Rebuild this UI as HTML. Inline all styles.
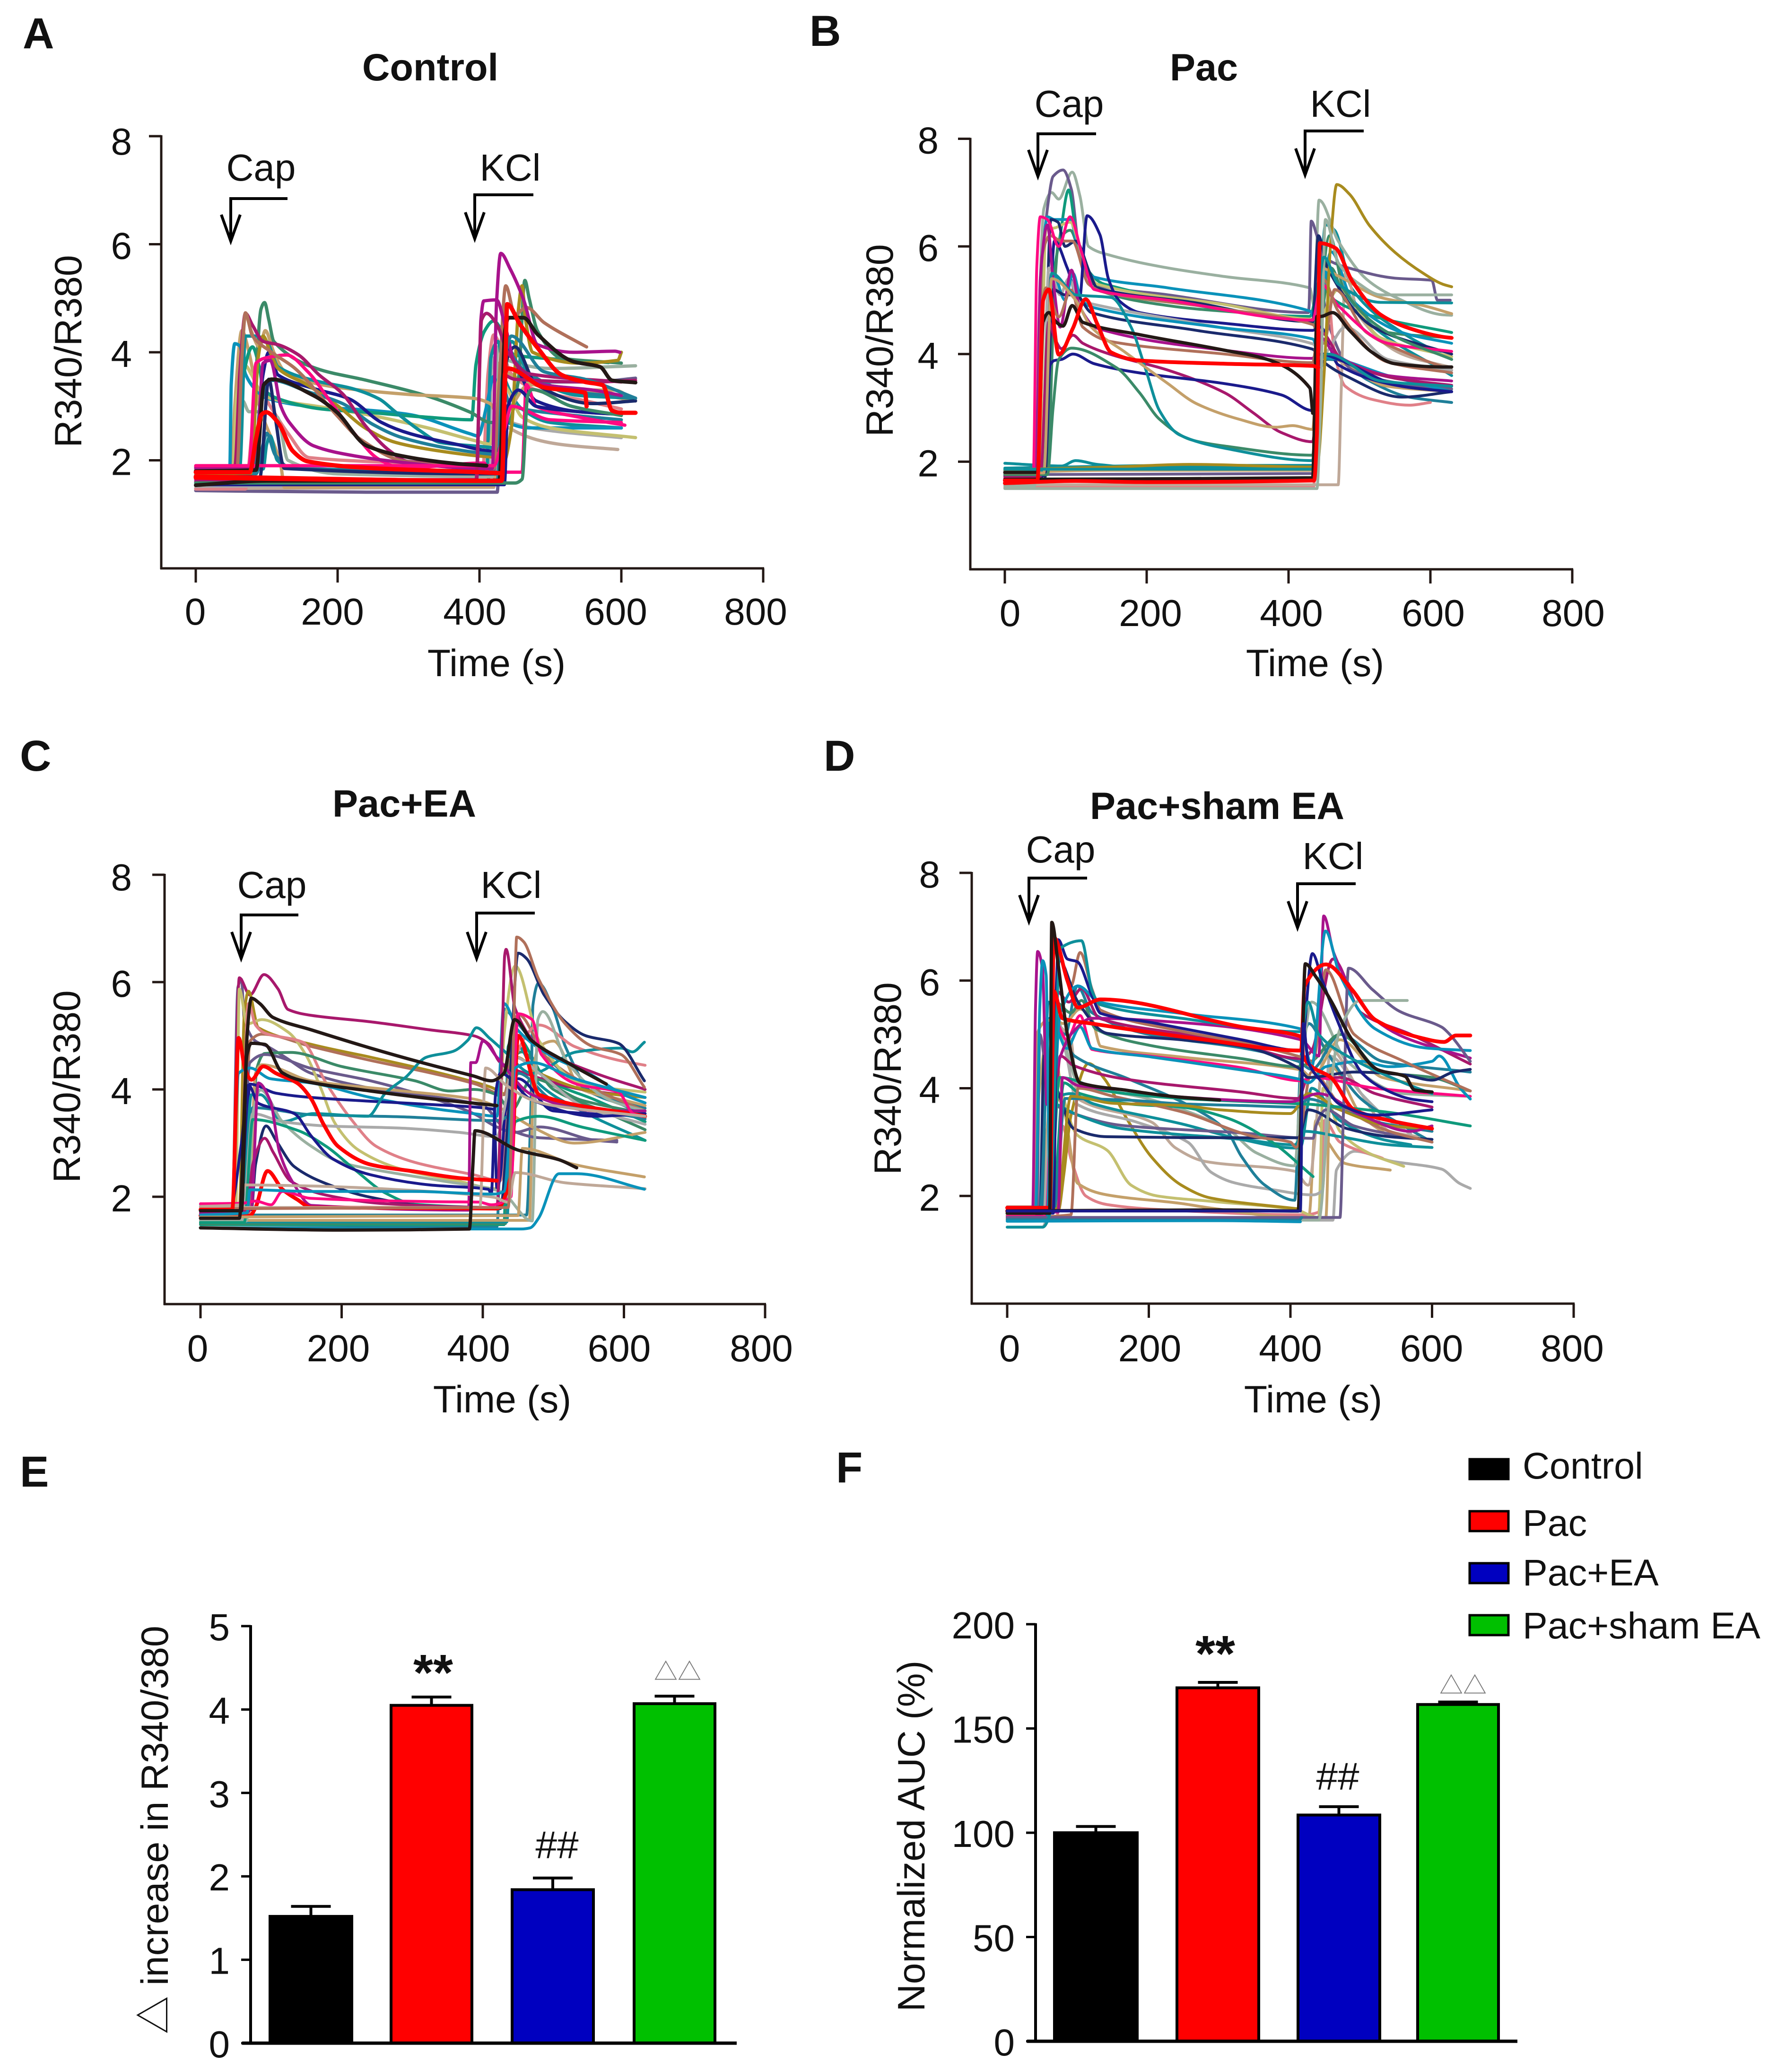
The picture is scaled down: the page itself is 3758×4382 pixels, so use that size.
<!DOCTYPE html>
<html lang="en">
<head>
<meta charset="utf-8">
<title>Calcium imaging time courses and summary bars</title>
<style>
html,body{margin:0;padding:0;background:#fff;}
svg{display:block;}
text{font-family:"Liberation Sans","Noto Sans CJK SC",sans-serif;fill:#111;}
.letter{font-size:92px;font-weight:bold;}
.title{font-size:81px;font-weight:bold;text-anchor:middle;}
.tick{font-size:80px;}
.axis-title{font-size:80.5px;text-anchor:middle;}
.anno{font-size:80px;text-anchor:middle;}
.legend{font-size:79px;}
</style>
</head>
<body>
<svg id="figure" xmlns="http://www.w3.org/2000/svg" width="3758" height="4382" viewBox="0 0 3758 4382">
<rect width="3758" height="4382" fill="#fff"/>
<text class="letter" x="48" y="102">A</text>
<text class="letter" x="1712" y="97">B</text>
<text class="letter" x="42" y="1630">C</text>
<text class="letter" x="1742" y="1630">D</text>
<text class="letter" x="42" y="3144">E</text>
<text class="letter" x="1768" y="3135">F</text>
<text class="title" x="910" y="170">Control</text>
<text class="title" x="2546" y="170">Pac</text>
<text class="title" x="855" y="1727">Pac+EA</text>
<text class="title" x="2574" y="1732">Pac+sham EA</text>
<g id="panels"></g>
<g id="bars"></g>
<g>
<rect x="3108" y="3086" width="82" height="42" fill="#000" stroke="#000" stroke-width="5"/>
<text class="legend" x="3220" y="3127">Control</text>
<rect x="3108" y="3196" width="82" height="42" fill="#ff0000" stroke="#000" stroke-width="5"/>
<text class="legend" x="3220" y="3248">Pac</text>
<rect x="3108" y="3306" width="82" height="42" fill="#0000c0" stroke="#000" stroke-width="5"/>
<text class="legend" x="3220" y="3353">Pac+EA</text>
<rect x="3108" y="3416" width="82" height="42" fill="#00c000" stroke="#000" stroke-width="5"/>
<text class="legend" x="3220" y="3465">Pac+sham EA</text>
</g>
</svg>
<script>
const xTickValues = [0, 200, 400, 600, 800];
const yTickValues = [2, 4, 6, 8];
const barGroups = ["Control", "Pac", "Pac+EA", "Pac+sham EA"];
const panelEValues = [1.52, 4.05, 1.84, 4.07];
const panelEErrors = [0.12, 0.1, 0.14, 0.09];
const panelETicks = [0, 1, 2, 3, 4, 5];
const panelFValues = [100, 169.5, 108.5, 161.5];
const panelFErrors = [3, 2.6, 4, 1.2];
const panelFTicks = [0, 50, 100, 150, 200];

const panelATraces = [
[0,1.44,240,1.41,425,1.41,432,3.7,447,3.55,480,3.45,560,3.45,620,3.52],
[0,1.48,420,1.5,428,3.3,437,2.64,511,2.3,595,2.2],
[0,1.47,70,1.47,80,2.6,90,3.3,105,3.0,130,2.5,160,2.05,300,1.95,405,1.9,412,3.6,420,4.32,430,4.1,445,3.6,480,3.3,550,3.1,600,2.95],
[0,1.52,412,1.55,418,3.9,428,3.1,445,2.7,500,2.55,600,2.42],
[0,1.56,50,1.56,55,3,65,4.4,75,4.0,90,3.0,120,1.9,125,1.5,420,1.52,428,3.8,440,3.6,520,3.3,590,3.3,620,3.1],
[0,1.62,60,1.62,66,3.1,75,2.9,90,2.9,115,2.8,130,2.0,200,1.75,418,1.7,426,4.1,440,3.85,500,3.7,620,3.75],
[0,1.82,95,1.84,100,2.3,105,2.45,115,2.0,135,1.85,410,1.8,416,3.9,426,4.2,436,3.5,460,2.95,500,2.7,600,2.6],
[0,1.7,85,1.75,95,2.3,100,2.5,112,2.1,135,1.85,420,1.8,428,3.5,445,3.0,520,2.85,600,2.75],
[0,1.85,48,1.85,50,3.4,55,4.16,62,4.12,70,3.6,85,3.3,100,3.15,160,3.0,240,2.93,300,2.85,387,2.49,398,2.45,410,3.0,420,3.55,430,3.0,440,2.7,470,2.6,600,2.6],
[0,1.75,52,1.75,58,3.2,70,3.75,78,3.6,90,3.3,105,3.15,180,2.98,240,2.85,324,2.61,395,2.36,415,2.3,428,3.5,440,3.3,460,2.8,500,2.6,620,2.42],
[0,1.8,58,1.8,65,3.4,80,4.1,90,3.7,95,3.33,116,3.14,178,2.95,241,2.89,324,2.8,389,2.75,395,3.77,407,4.39,420,4.58,432,4.39,449,3.95,491,3.89,582,3.81],
[0,1.78,78,1.78,85,3.6,92,4.8,97,4.92,103,4.6,110,4.2,170,3.7,241,3.48,324,3.2,387,2.89,416,2.7,425,2.7,440,2.7,455,3.5,464,5.33,470,5.0,482,4.39,516,3.89,600,3.8],
[0,1.74,58,1.74,64,3.5,70,4.7,78,4.4,90,4.1,98,4.4,110,4.0,125,3.65,160,3.45,200,3.35,300,3.22,390,3.15,415,3.05,430,2.75,440,2.9,470,3.4,620,3.1],
[0,1.86,62,1.86,70,4.3,85,4.3,100,4.2,116,3.73,166,3.48,220,3.33,258,3.14,282,2.89,316,2.55,345,2.33,420,2.23,430,2.2,436,3.6,445,4.2,470,3.6,540,3.2,620,3.15],
[0,1.72,80,1.72,95,3.6,103,4.0,116,3.58,166,3.33,216,3.14,262,2.7,303,2.49,366,2.3,420,2.17,428,2.2,436,4.1,450,3.8,480,3.1,540,2.9,600,2.85],
[0,1.76,78,1.76,88,3.9,95,4.3,105,4.0,116,3.7,158,3.39,199,3.02,241,2.58,282,2.33,345,2.17,399,2.08,425,2.05,432,1.9,445,2.6,455,4.8,460,5.23,465,4.6,475,4.0,540,3.8,595,3.85,600,4.0],
[0,1.68,80,1.68,95,3.2,107,3.48,158,3.27,207,3.05,249,2.67,291,2.42,366,2.2,420,2.11,430,2.1,440,4.0,460,3.7,520,3.3,620,3.15],
[0,1.88,55,1.88,62,3.6,70,4.72,80,4.5,95,4.2,116,4.14,145,3.95,174,3.58,207,3.23,241,2.61,274,2.17,299,1.98,420,1.9,430,3.6,450,3.5,560,3.45,620,3.48],
[0,1.89,75,1.89,85,3.8,100,3.9,128,3.95,158,3.64,187,3.14,224,2.49,258,2.02,291,1.86,407,1.95,412,1.78,460,1.78,466,3.4,480,3.0,540,2.8,605,2.65],
[0,1.83,58,1.83,65,3.9,70,4.73,80,4.3,107,4.0,140,3.7,199,2.83,232,2.39,295,1.98,420,1.85,428,3.5,437,5.23,450,4.7,466,4.83,491,4.55,541,4.17,551,4.1],
[0,1.66,90,1.66,103,3.5,112,2.8,125,1.85,400,1.75,430,1.75,437,3.8,450,4.1,480,3.4,560,3.05,620,3.1],
[0,1.86,85,1.86,95,3.8,105,3.85,120,3.0,132,2.7,166,2.27,225,2.08,300,1.95,395,1.85,418,1.85,424,4.9,430,5.83,443,5.55,462,4.98,482,4.14,532,4.0,591,4.02,598,4.0],
[0,1.64,396,1.64,402,4.6,406,4.95,424,4.97,436,4.5,450,3.8,490,3.4,560,3.3,600,3.2],
[0,1.6,395,1.6,403,4.6,410,4.72,425,4.5,440,4.0,470,3.6,600,3.45],
[0,1.58,425,1.58,432,3.5,445,4.3,491,3.64,549,3.5,620,3.15],
[0,1.55,435,1.55,440,3.0,455,3.3,480,3.0,540,2.9,600,2.85],
[0,1.9,420,1.9,436,2.6,445,3.0,500,2.75,600,2.7],
[0,1.58,450,1.58,460,1.65,468,3.2,474,3.31,530,3.0,600,2.83],
[0,1.54,100,1.62,428,1.63,436,4.4,441,4.64,462,4.64,482,4.33,532,3.83,570,3.73,587,3.48,620,3.44],
[0,1.8,85,1.82,96,3.4,107,3.5,166,3.2,199,2.89,241,2.27,303,2.05,366,1.94,410,1.9],
[0,1.78,76,1.78,85,2.4,93,2.85,99,2.89,116,2.7,137,2.17,158,1.98,241,1.86,400,1.78,430,1.76],
[0,1.7,428,1.62,432,1.64,436,3.6,440,3.7,491,3.35,549,3.25,551,3.0],
[0,1.68,200,1.64,431,1.62,436,3.4,439,4.89,457,4.52,482,4.08,516,3.58,549,3.45,574,3.39,587,2.92,600,2.88,620,2.88]
];
const panelAColors = "l i s y a v t u b h e g a t n o u c p w d m m c u n p g k k r r r".split(" ");

const panelBTraces = [
[0,1.97,80,1.92,100,2.02,130,1.95,200,1.88,434,1.88,440,3,450,5.6,470,5.3,520,4.5,630,3.6],
[0,1.85,434,1.85,442,3.6,455,3.9,474,3.88,510,3.53,570,3.2,630,3.1],
[0,1.8,150,1.84,434,1.84,444,3.7,455,4.0,480,3.8,540,3.4,630,3.3],
[0,1.76,434,1.78,446,5.2,455,4.6,490,3.7,560,3.45,630,3.35],
[0,1.88,250,1.93,434,1.93,442,4.2,452,6.4,465,6.3,490,5.2,560,4.4,630,3.9],
[0,1.52,435,1.52,445,4.6,452,5.6,465,4.0,480,3.4,520,3.15,570,3.05,600,3.1],
[0,1.57,470,1.57,474,3.2,480,5.5,500,4.7,560,4.0,630,3.75],
[0,1.55,42,1.55,48,4.6,55,6.7,66,7.0,76,6.88,95,7.38,106,6.93,118,6.0,150,5.83,230,5.6,310,5.44,430,5.23,436,4.9,443,6.86,470,6.1,510,5.39,550,5.06,617,4.73,630,4.72],
[0,1.8,42,1.8,52,5.5,62,6.9,68,7.3,82,7.42,94,7.05,104,6,125,5.3,230,5.1,428,4.77,429,4.9,432,6.47,440,6.2,450,5.8,490,5.58,550,5.41,602,5.37,610,5.0,628,5.0],
[0,1.72,50,1.72,62,4.8,78,6.2,90,7.05,100,6.3,115,5.6,140,5.3,430,4.7,445,5.4,465,5.0,520,4.7,630,4.4],
[0,1.83,60,1.83,70,5.2,76,6.1,92,6.3,110,5.7,140,5.15,230,4.9,434,4.6,440,4.4,460,5.6,480,5.0,540,4.4,630,4.3],
[0,1.75,45,1.75,50,4.9,60,6.55,70,6.5,92,6.5,106,5.8,126,5.43,230,5.23,430,4.8,440,4.6,460,5.9,490,5.0,560,4.4,630,4.2],
[0,1.78,48,1.78,58,6.3,72,6.35,92,6.45,110,5.8,130,5.3,310,4.92,434,4.65,445,4.7,470,5.2,530,4.3,630,3.95],
[0,1.7,52,1.7,65,6.5,75,6.45,85,6.0,100,6.1,120,5.5,130,5.23,270,4.95,434,4.6,442,6.2,455,5.6,520,4.5,630,4.0],
[0,1.68,46,1.68,52,5.8,64,6.2,80,6.1,95,6.1,118,5.3,140,5.15,300,4.85,434,4.55,450,4.2,465,5.2,510,4.4,570,4.0,630,3.7],
[0,1.74,55,1.74,70,6.1,88,5.6,105,5.0,116,6.57,134,6.22,146,5.4,162,4.98,190,4.77,310,4.57,434,4.44,445,4.5,470,3.8,560,3.4,630,3.3],
[0,1.7,40,1.7,45,5.6,50,6.55,60,6.5,76,6.0,92,6.55,108,5.9,126,5.2,230,5.0,434,4.63,446,5.3,470,4.9,540,4.2,630,4.05],
[0,1.81,52,1.81,62,5.6,78,5.1,90,5.4,105,5.0,120,4.94,310,4.48,434,4.19,448,4.0,480,4.5,540,3.9,630,3.7],
[0,1.79,55,1.79,68,5.5,85,5.0,96,5.5,108,5.0,126,4.86,300,4.5,434,4.28,445,3.95,470,3.9,540,3.6,630,3.3],
[0,1.66,56,1.66,68,5.2,85,5.1,100,5.1,122,4.77,270,4.44,434,4.09,445,3.9,480,3.6,560,3.2,630,3.3],
[0,1.64,44,1.64,50,5.4,60,6.4,68,5.4,78,4.5,94,5.56,105,4.9,130,4.48,310,4.07,434,3.92,446,4.3,465,4.0,540,3.6,630,3.5],
[0,1.82,46,1.82,52,4.8,58,5.23,76,4.69,93,5.19,110,4.5,150,4.23,310,4.0,434,3.84,448,5.4,470,4.8,540,3.85,630,3.65],
[0,1.73,50,1.73,62,4.6,70,4.3,80,4.1,96,4.35,110,4.2,150,3.99,230,3.7,310,3.28,350,2.91,390,2.54,434,2.37,446,4.4,475,3.9,550,3.55,630,3.42],
[0,1.78,55,1.78,64,3.8,70,3.88,80,3.9,96,4.0,126,3.82,190,3.65,310,3.45,390,3.24,434,2.95,446,4.0,470,3.9,560,3.4,630,3.3],
[0,1.76,60,1.76,68,3.0,76,3.9,94,4.11,158,3.74,190,3.28,218,2.79,262,2.41,310,2.29,434,2.12,444,4.8,458,6.2,478,5.2,540,4.4,630,3.9],
[0,1.84,55,1.84,66,5.5,100,5.1,150,5.05,178,4.5,198,3.74,218,2.95,246,2.5,310,2.25,434,2.02,442,3.9,455,4.0,530,3.5,630,3.4],
[0,1.79,55,1.79,66,5.4,100,5.0,122,4.5,170,4.03,230,3.45,270,3.08,330,2.79,382,2.64,406,2.67,434,2.6,445,5.6,470,5.45,530,5.05,590,4.9,630,4.75],
[0,1.85,150,1.9,260,1.95,440,1.9,450,3.6,460,6.2,468,7.15,486,6.97,514,6.39,550,5.89,590,5.5,617,5.3,630,5.25],
[0,1.5,200,1.5,440,1.5,445,3,452,6.5,470,5.7,500,5.3,530,5.1,630,5.1],
[0,1.86,434,1.86,442,5.0,450,5.8,470,5.3,530,4.96,630,4.95],
[0,1.67,200,1.68,434,1.7,440,4.7,446,4.7,462,4.77,486,4.44,518,4.03,550,3.82,617,3.76,630,3.76],
[0,1.8,46,1.8,54,4.6,62,4.77,72,4.6,82,4.52,95,4.9,110,4.59,190,4.36,310,4.07,370,3.9,430,3.37,434,2.9],
[0,1.6,100,1.64,200,1.62,436,1.65,440,2.5,444,6.06,466,5.97,490,5.35,530,4.73,570,4.48,617,4.32,630,4.3],
[0,1.65,46,1.65,54,5.0,62,5.2,76,3.99,96,4.48,114,5.02,130,4.57,150,4.03,190,3.88,310,3.82,434,3.78,442,3.75]
];
const panelBColors = "t u a l t s i v l e g b h d w n p y b d m w c n g t a o v t k k r r".split(" ");

const panelCTraces = [
[0,1.42,420,1.44,430,5.5,445,5.3,490,4.6,560,3.9,630,3.65],
[0,1.48,430,1.48,436,4.8,446,5.0,490,4.2,560,3.8,630,3.4],
[0,1.5,432,1.5,440,4.5,455,4.7,500,4.0,570,3.6,630,3.25],
[0,1.53,434,1.53,440,3.3,450,4.8,480,4.1,540,3.6,630,3.05],
[0,1.66,462,1.66,468,3.6,471,5.57,479,5.98,500,5.49,517,4.8,554,3.95,600,3.7,630,3.5],
[0,1.56,466,1.56,472,4.4,480,4.8,500,4.9,540,4.0,600,3.8,630,3.7],
[0,1.8,45,1.8,53,5.9,58,6.05,62,5.3,78,4.9,95,4.8,120,4.6,157,4.3,250,4.0,400,3.7,430,3.3,480,3.1,590,3.05],
[0,1.82,45,1.82,55,6.08,70,5.76,90,6.14,110,5.87,124,5.49,157,5.38,241,5.26,325,5.11,387,5.0,408,4.85,425,4.5,460,4.3,540,4.0,630,3.85],
[0,1.75,55,1.75,62,5.4,68,5.83,82,5.15,157,4.84,241,4.6,325,4.35,387,4.14,412,4.04,436,3.9,448,4.6,480,4.3,560,3.95,630,3.85],
[0,1.72,60,1.72,70,4.9,87,5.03,157,4.8,241,4.54,325,4.31,390,4.1,430,3.9,450,5.4,490,4.6,560,4.0,630,3.6],
[0,1.78,50,1.78,55,5.87,66,5.22,87,5.3,124,5.07,149,4.65,170,4.04,191,3.36,224,2.87,283,2.52,366,2.29,420,2.15,430,5.0,446,6.3,480,4.9,540,4.1,630,3.95],
[0,1.73,55,1.73,68,5.6,78,5.2,91,5.05,145,4.88,178,4.12,212,3.47,249,2.94,304,2.64,387,2.41,425,2.3,440,4.4,480,5.2,530,4.8,590,4.55,630,4.45],
[0,1.7,68,1.7,80,4.4,91,4.67,128,4.69,199,4.43,304,4.16,354,3.97,387,4.0,420,3.9,440,3.6,470,4.2,540,3.8,630,3.55],
[0,1.68,56,1.68,70,4.5,91,4.65,157,4.39,241,4.16,325,3.85,387,3.55,420,3.3,445,3.2,480,3.3,560,3.05,590,3.02],
[0,1.64,68,1.64,78,4.3,87,4.46,157,4.16,280,3.98,387,3.82,425,3.65,470,3.3,530,3.0,630,3.2],
[0,1.86,45,1.86,54,4.3,70,4.4,99,4.2,157,4.12,241,3.85,337,3.63,387,3.55,420,3.5,430,5.6,450,5.1,500,4.6,550,4.3,600,3.9,630,3.75],
[0,1.6,60,1.6,70,4.1,107,3.93,157,3.85,241,3.78,325,3.72,416,3.63,420,2.15,425,2.4,432,3.6,450,4.2,500,3.6,630,3.5],
[0,1.62,60,1.62,74,3.66,157,3.53,283,3.49,420,3.42,435,3.5,450,4.3,500,3.8,630,3.45],
[0,1.7,60,1.7,72,3.9,85,3.9,116,3.4,160,3.55,237,3.5,262,3.93,291,4.23,320,4.6,358,4.71,379,4.92,391,5.15,410,4.95,429,4.73,470,4.3,533,4.7,596,4.77,612,4.7,629,4.88],
[0,1.58,60,1.58,74,3.55,116,3.4,178,3.32,283,3.28,366,3.2,420,3.12,430,3.6,445,4.6,480,4.3,540,3.7,630,3.35],
[0,1.55,65,1.55,75,3.6,85,3.99,116,3.4,157,2.94,199,2.64,249,2.5,340,2.3,425,2.1,470,1.55,478,5.3,485,5.45,520,4.5,580,3.8,630,3.6],
[0,1.52,62,1.52,74,3.44,137,3.24,178,2.94,220,2.49,262,2.07,304,1.86,420,1.8,436,1.85,446,3.4,480,3.5,540,3.3,630,3.05],
[0,1.78,42,1.78,58,3.0,68,4.08,82,3.74,133,3.55,157,3.13,187,2.71,241,2.41,325,2.22,408,2.14,412,2.05,418,3.9,425,4.3,470,3.8,560,3.5,630,3.55],
[0,1.76,72,1.76,78,2.6,93,3.32,107,3.05,133,2.56,183,2.22,241,1.99,325,1.82,425,1.78,436,3.5,450,6.54,462,6.44,487,5.76,517,5.26,546,5.0,592,4.86,629,4.16],
[0,1.74,66,1.74,74,2.6,91,3.09,103,2.83,128,2.29,178,2.03,262,1.87,420,1.8,428,5.2,431,6.5,433,6.61,446,5.5,480,4.8,560,4.3,630,4.0],
[0,1.7,64,1.7,72,1.8,82,4.12,99,3.78,112,2.83,133,2.22,157,1.84,380,1.75,383,4.5,390,4.5,400,4.9,420,4.6,470,3.9,560,3.6,630,3.6],
[0,1.65,70,1.65,78,1.8,95,2.48,116,2.14,137,1.95,157,1.8,420,1.78,440,2.4,450,5.0,480,3.9,630,3.5],
[0,1.87,60,1.88,78,1.92,100,1.85,116,2.1,157,1.97,325,1.91,395,1.9,412,1.85,440,2,446,4.6,450,5.41,470,5.3,483,4.65,533,4.1,592,3.95,613,3.55,625,3.5],
[0,1.82,58,1.85,62,2.22,157,2.2,325,2.1,416,1.99,436,1.9,446,2.45,517,2.26,596,2.18,630,2.15],
[0,1.66,66,1.7,70,2.13,157,2.1,300,2.1,416,2.05,430,2.1,446,4.4,470,4.5,530,4.2,630,3.85],
[0,1.8,396,1.8,404,4.4,433,4.08,470,3.8,500,3.7,630,3.5],
[0,1.62,450,1.65,456,2.9,530,2.6,629,2.37],
[0,1.42,200,1.4,455,1.4,467,1.42,479,1.6,508,2.43,533,2.43,629,2.14],
[0,1.76,60,1.78,436,1.8,446,6.2,448,6.84,458,6.75,479,6.06,517,5.22,554,4.81,596,4.65,629,4.04],
[0,1.76,45,1.76,54,4.96,63,4.39,72,4.18,89,4.43,107,4.3,137,4.12,157,3.82,174,3.36,195,2.94,241,2.6,304,2.47,366,2.35,420,2.3],
[0,1.74,58,1.74,66,5.0,72,5.7,84,5.6,103,5.34,157,5.11,241,4.77,325,4.46,387,4.25,412,4.16,430,4.3,445,5.3,470,4.9,520,4.5,575,4.1],
[0,1.6,55,1.6,66,4.65,72,4.86,91,4.84,116,4.31,145,4.16,241,3.97,325,3.83,420,3.7],
[0,1.42,200,1.38,381,1.4,386,2.6,389,3.23,450,2.87,508,2.69,533,2.54]
];
const panelCColors = "u e g t u a l c o w h s g l a b n u t y v e n d c m r p i b i a b w r k k k".split(" ");

const panelDTraces = [
[0,1.42,50,1.42,58,1.6,420,1.55,440,1.55,460,1.55,465,2.48,491,2.83,541,2.65,613,2.5,638,2.24,654,2.14],
[0,1.6,420,1.55,426,1.6,436,3.4,453,3.0,478,2.6,541,2.48],
[0,1.55,70,1.55,78,3.3,90,2.69,111,2.0,141,1.84,211,1.75,420,1.65,440,1.7,448,3.4,470,3.0,530,2.7],
[0,1.58,48,1.58,55,3,62,3.9,78,3.7,99,2.24,141,2.02,246,1.86,285,1.78,410,1.6,450,1.6,457,4.4,500,3.5,540,3.1],
[0,1.75,38,1.75,45,3.9,60,5.2,78,3.9,99,3.13,141,2.85,175,2.2,212,2.0,288,1.9,406,1.75,440,1.6,446,4.0,470,3.2,510,2.8,560,2.55],
[0,1.72,72,1.72,80,2.4,90,3.49,115,4.46,137,4.18,170,3.41,204,2.72,246,2.2,288,1.96,411,1.76],
[0,1.8,52,1.8,64,5.2,90,4.9,99,3.81,204,3.37,238,2.89,280,2.64,406,2.46,425,2.2,450,4.8,500,3.9,540,3.2,580,3.1],
[0,1.7,52,1.7,66,5.2,82,4.7,99,3.7,183,3.37,255,3.0,288,2.44,322,2.24,373,2.12,432,2.02,445,2.1,455,4.6,500,3.9,540,3.4,570,3.15],
[0,1.65,48,1.65,58,5.6,78,5.0,95,4.6,170,4.18,255,3.69,310,3.21,331,2.73,364,2.2,406,1.92,415,4.6,426,5.2,450,4.7,500,3.8,560,3.3,600,3.0],
[0,1.62,55,1.62,68,5.4,82,4.8,100,4.1,200,3.8,310,3.25,352,2.8,406,2.56,416,4.4,430,5.6,480,4.5,560,3.9,654,3.85],
[0,1.68,55,1.68,66,3.8,90,3.9,122,3.71,246,3.34,331,3.05,406,2.89,414,2.9,430,4.0,470,3.4,530,3.05,570,2.95],
[0,1.56,42,1.56,46,5.0,60,3.8,90,3.55,162,3.31,331,3.17,432,3.07,436,3.3,450,3.6,490,3.3,560,3.1],
[0,1.63,46,1.63,52,3.8,70,3.7,100,3.5,162,3.25,331,3.05,406,2.95,420,3.2,470,3.1,540,2.95,600,2.9],
[0,1.66,46,1.66,52,4.6,70,4.0,94,3.25,141,3.1,331,3.08,411,3.08,425,3.6,480,3.25,540,3.1,600,3.05],
[0,1.7,64,1.7,80,4.1,103,3.9,180,3.7,246,3.65,310,3.45,373,3.01,432,2.36],
[0,1.58,90,1.65,100,4.0,150,3.85,250,3.55,350,3.1,400,3.0,408,2.9,430,4.3,470,3.7,540,3.2,600,3.0],
[0,1.72,60,1.72,75,4.6,94,4.42,162,4.18,331,3.93,411,3.81,425,4.2,470,4.2,520,3.9,600,3.65],
[0,1.74,66,1.74,82,3.81,170,3.78,246,3.71,331,3.68,411,3.65,425,3.8,470,3.6,530,3.35,600,3.2],
[0,1.76,70,1.76,90,3.85,150,3.72,246,3.68,300,3.6,400,3.53,425,3.9,470,3.6,540,3.3,600,3.25],
[0,1.73,60,1.73,74,4.2,140,3.95,246,3.81,415,3.71,430,3.7,470,3.65,540,3.55,654,3.3],
[0,1.7,72,1.7,78,4.2,100,4.05,170,3.96,232,3.85,400,3.75,440,3.9,500,3.5,570,3.2,600,3.3],
[0,1.68,46,1.68,60,5.3,82,5.0,99,5.9,120,5.4,200,5.0,331,4.75,411,4.5,430,4.35,470,5.0,530,4.5,654,4.3],
[0,1.66,38,1.66,42,5.0,55,5.25,65,5.27,80,5.2,103,5.47,120,5.27,132,4.78,246,4.58,415,4.34,430,4.2,470,4.9,530,4.2,654,3.95],
[0,1.62,55,1.62,66,5.3,84,4.9,103,5.35,120,4.72,200,4.6,331,4.38,415,4.14,430,4.2,520,4.0,654,3.85],
[0,1.6,56,1.6,66,5.16,84,4.74,103,5.14,120,4.74,204,4.58,331,4.34,415,4.16,425,4.1,450,4.4,500,4.5,540,4.4,600,4.5,610,4.6,640,4.0,654,3.8],
[0,1.75,62,1.75,70,5.8,87,5.6,105,5.85,130,5.3,250,5.0,331,4.8,415,4.55,430,4.7,460,6.4,500,5.4,570,5.0,654,4.45],
[0,1.77,60,1.77,68,5.6,90,5.4,105,5.63,125,5.1,200,4.8,331,4.55,411,4.4,430,4.5,470,5.0,530,4.3,600,4.2,654,3.95],
[0,1.7,60,1.7,72,6.5,90,5.9,103,6.52,120,5.83,132,5.45,246,5.06,331,4.85,415,4.58,432,4.5,450,6.2,490,5.0,560,4.5,654,3.95],
[0,1.69,60,1.69,72,6.4,100,5.6,141,5.02,246,4.9,331,4.78,411,4.38,425,4.2,490,4.3,560,4.25,600,4.15,630,4.3,654,4.35],
[0,1.74,36,1.74,40,5.5,43,6.54,50,6.2,56,3.7,70,4.4,90,5.0,120,5.3,246,5.22,415,4.9,440,4.6,447,7.2,461,6.52,487,5.83,520,5.27,562,4.94,654,4.56],
[0,1.73,40,1.73,46,5.5,50,6.37,55,6.1,60,2.5,75,5.4,100,5.9,130,5.6,246,5.39,415,5.1,430,4.4,449.5,6.92,470,6.1,520,5.1,590,4.75,654,4.7],
[0,1.6,470,1.6,475,3.6,482,6.23,516,5.83,554,5.43,613,5.14,625,5.0,654,4.5],
[0,1.55,440,1.55,455,3.8,470,5.1,499,5.63,565,5.63],
[0,1.68,65,1.68,72,6.76,85,6.4,99,6.35,120,5.71,132,5.39,204,5.22,331,4.9,415,4.7,431,6.5,445,6.0,465,5.3,500,4.3,530,4.0,570,3.8,600,3.75],
[0,1.42,50,1.42,60,1.65,75,6.6,105,6.74,120,5.8,132,5.55,246,5.3,415,5.05,425,5.6,440,5.0,480,4.6,560,4.1,600,3.9],
[0,1.72,60,1.72,66,6.8,85,6.0,100,5.5,132,5.65,331,5.14,415,4.96,418,4.6,430,4.4,457,4.2,490,3.6,540,3.4,600,3.25],
[0,1.78,60,1.78,66,5.8,78,5.3,120,5.2,280,4.9,415,4.7,420,5.9,450,6.3,487,5.83,520,5.27,583,4.94,617,4.86,634,4.98,654,4.98],
[0,1.68,60,1.68,63,7.08,72,6.3,85,5.0,103,4.1,170,3.96,232,3.85,300,3.78],
[0,1.72,300,1.74,411,1.72,415,3.6,421,6.31,436,6.07,457,5.63,487,4.9,524,4.34,562,4.22,575,3.97,600,3.93],
[0,1.72,414,1.72,418,5.2,425,4.5,445,4.1,470,3.7,520,3.5,600,3.6],
[0,1.56,200,1.55,412,1.55,416,1.6],
[0,1.53,300,1.54,414,1.52]
];
const panelDColors = "y a s a h o i y u v t l t d e w c u o e m u a p b c g w d m b l v n t r r k k n u b".split(" ");

const palette = {k:"#231815",r:"#ff0000",p:"#ff0a82",m:"#a8128c",c:"#a8186c",n:"#1a1a8c",d:"#1a2a6c",t:"#0e8f9a",b:"#0a92ba",u:"#1f7f99",g:"#3b8a68",e:"#0f9a7c",o:"#a88b1e",a:"#c4a06a",h:"#c4c070",w:"#b0705a",s:"#e08088",y:"#aaaaaa",v:"#9ab0a0",l:"#6a5a8c",i:"#bfa898"};
const NS = "http://www.w3.org/2000/svg";
const axisInk = "#231815";

function make(tag, attrs, parent, txt) {
  const el = document.createElementNS(NS, tag);
  for (const k in attrs) el.setAttribute(k, attrs[k]);
  if (txt !== undefined) el.textContent = txt;
  parent.appendChild(el);
  return el;
}

/* monotone cubic path through the mapped trace points */
function smoothPath(xy) {
  const n = xy.length;
  const h = [], s = [], m = [];
  for (let i = 0; i < n - 1; i++) {
    h[i] = Math.max(xy[i + 1][0] - xy[i][0], 0.01);
    s[i] = (xy[i + 1][1] - xy[i][1]) / h[i];
  }
  m[0] = s[0];
  m[n - 1] = s[n - 2];
  for (let i = 1; i < n - 1; i++) {
    if (s[i - 1] * s[i] <= 0) { m[i] = 0; }
    else { m[i] = 2 * s[i - 1] * s[i] / (s[i - 1] + s[i]); }
  }
  let d = "M" + xy[0][0].toFixed(1) + " " + xy[0][1].toFixed(1);
  for (let i = 0; i < n - 1; i++) {
    const c = h[i] / 3;
    d += "C" + (xy[i][0] + c).toFixed(1) + " " + (xy[i][1] + m[i] * c).toFixed(1) + " " + (xy[i + 1][0] - c).toFixed(1) + " " + (xy[i + 1][1] - m[i + 1] * c).toFixed(1) + " " + xy[i + 1][0].toFixed(1) + " " + xy[i + 1][1].toFixed(1);
  }
  return d;
}

function drawTimeCourse(cfg, traces, colors) {
  const host = document.getElementById("panels");
  const g = make("g", {}, host);
  
  
  const xs = function (t) { return cfg.x0 + t * (cfg.x800 - cfg.x0) / 800; };
  const ys = function (v) { return cfg.y0 - v * (cfg.y0 - cfg.y8) / 8; };

  traces.forEach(function (tr, i) {
    const pts = [];
    for (let j = 0; j < tr.length; j += 2) pts.push([xs(tr[j]), ys(tr[j + 1])]);
    const key = colors[i];
    const width = key === "r" ? cfg.lw + 2 : (key === "k" ? cfg.lw + 1 : cfg.lw);
    const line = make("path", {d: smoothPath(pts), fill: "none", stroke: palette[key], "stroke-width": width, "stroke-linejoin": "round", "stroke-linecap": "round"}, g);
    
    
  });

  const yAxis = make("line", {x1: cfg.ax, x2: cfg.ax, y1: ys(8) - 2, y2: ys(0) + 2, stroke: axisInk, "stroke-width": 5}, g);
  
  
  const xAxis = make("line", {x1: cfg.ax - 2, x2: xs(800) + 2, y1: ys(0), y2: ys(0), stroke: axisInk, "stroke-width": 5}, g);
  
  

  yTickValues.forEach(function (v) {
    const tick = make("line", {x1: cfg.ax - 26, x2: cfg.ax, y1: ys(v), y2: ys(v), stroke: axisInk, "stroke-width": 5}, g);
    
    
    const label = make("text", {class: "tick", x: cfg.yLabelRight, y: ys(v) + 31 + (v === 8 ? cfg.topLabelShift : 0), "text-anchor": "end"}, g, String(v));
    
    
  });
  xTickValues.forEach(function (t, i) {
    const tick = make("line", {x1: xs(t), x2: xs(t), y1: ys(0), y2: ys(0) + 30, stroke: axisInk, "stroke-width": 5}, g);
    
    
    const label = make("text", {class: "tick", x: xs(t) + cfg.xLabelShift[i], y: cfg.xLabelBase, "text-anchor": "middle"}, g, String(t));
    
    
  });

  const xTitle = make("text", {class: "axis-title", x: cfg.xTitleX, y: cfg.xTitleY}, g, "Time (s)");
  
  
  const yTitle = make("text", {class: "axis-title", transform: "translate(" + cfg.yTitleX + " " + cfg.yTitleY + ") rotate(-90)"}, g, "R340/R380");
  
  

  cfg.annos.forEach(function (a) {
    const label = make("text", {class: "anno", x: a.tx, y: a.ty}, g, a.name);
    
    
    const d = "M" + a.x2 + " " + a.y + " H" + a.x1 + " V" + a.tip + " M" + (a.x1 - 20) + " " + (a.tip - 56) + " L" + a.x1 + " " + a.tip + " L" + (a.x1 + 20) + " " + (a.tip - 56);
    const arrow = make("path", {d: d, fill: "none", stroke: "#000", "stroke-width": 6}, g);
    
    
  });
}

function drawBars(cfg, values, errors, ticks) {
  const host = document.getElementById("bars");
  const g = make("g", {}, host);
  
  
  const ys = function (v) { return cfg.y0 - v * cfg.unit; };
  const fills = ["#000000", "#ff0000", "#0000c0", "#00c000"];

  values.forEach(function (v, i) {
    const cx = cfg.bars[i][0] + (cfg.bars[i][1] - cfg.bars[i][0]) / 2;
    const err = make("path", {d: "M" + cx + " " + ys(v) + " V" + ys(v + errors[i]) + " M" + (cx - 42) + " " + ys(v + errors[i]) + " H" + (cx + 42), fill: "none", stroke: "#000", "stroke-width": 6}, g);
    
    
    const bar = make("rect", {x: cfg.bars[i][0], y: ys(v), width: cfg.bars[i][1] - cfg.bars[i][0], height: v * cfg.unit, fill: fills[i], stroke: "#000", "stroke-width": 6}, g);
    
    
  });

  const yAxis = make("line", {x1: cfg.ax, x2: cfg.ax, y1: ys(ticks[ticks.length - 1]) - 2, y2: cfg.y0 + 3, stroke: "#000", "stroke-width": 6}, g);
  
  
  const xAxis = make("line", {x1: cfg.ax - 18, x2: cfg.xEnd, y1: cfg.y0, y2: cfg.y0, stroke: "#000", "stroke-width": 7}, g);
  
  

  ticks.forEach(function (v) {
    const tick = make("line", {x1: cfg.ax - 20, x2: cfg.ax, y1: ys(v), y2: ys(v), stroke: "#000", "stroke-width": 5}, g);
    
    
    const label = make("text", {class: "tick", x: cfg.labelRight, y: ys(v) + cfg.labelDy, "text-anchor": "end"}, g, String(v));
    
    
  });

  const yTitle = make("text", {class: "axis-title", transform: "translate(" + cfg.titleX + " " + cfg.titleY + ") rotate(-90)"}, g, cfg.title);
  
  

  const stars = make("text", {x: cfg.stars[0], y: cfg.stars[1], "text-anchor": "middle", "font-size": 108, "font-weight": "bold"}, g, "**");
  
  
  const hashes = make("text", {x: cfg.hashes[0], y: cfg.hashes[1], "text-anchor": "middle", "font-size": 82}, g, "##");
  
  
  const tri = make("text", {x: cfg.tri[0], y: cfg.tri[1], "text-anchor": "middle", "font-size": 50, style: "fill:#777"}, g, "△△");
  
  
}

drawTimeCourse({lw:7,topLabelShift:8,ax:341,x0:414,x800:1614,y0:1202,y8:288,yLabelRight:279,xLabelBase:1321,xLabelShift:[-1,-11,-10,-12,-16],xTitleX:1050,xTitleY:1430,yTitleX:172,yTitleY:743,
  annos:[{name:"Cap",tx:552,ty:382,x1:488,x2:608,y:420,tip:510},{name:"KCl",tx:1079,ty:382,x1:1004,x2:1128,y:412,tip:505}]}, panelATraces, panelAColors);
drawTimeCourse({lw:6,topLabelShift:0,ax:2052,x0:2125,x800:3325,y0:1204,y8:293.5,yLabelRight:1985,xLabelBase:1324,xLabelShift:[11,8,6,6,2],xTitleX:2781,xTitleY:1430,yTitleX:1888,yTitleY:720,
  annos:[{name:"Cap",tx:2261,ty:247,x1:2195,x2:2318,y:283,tip:373},{name:"KCl",tx:2835,ty:247,x1:2760,x2:2884,y:277,tip:370}]}, panelBTraces, panelBColors);
drawTimeCourse({lw:6,topLabelShift:2,ax:348,x0:424,x800:1618,y0:2758,y8:1850,yLabelRight:279,xLabelBase:2879,xLabelShift:[-6,-7,-9,-10,-8],xTitleX:1062,xTitleY:2987,yTitleX:169,yTitleY:2298,
  annos:[{name:"Cap",tx:575,ty:1899,x1:510,x2:631,y:1935,tip:2027},{name:"KCl",tx:1081,ty:1899,x1:1008,x2:1131,y:1931,tip:2027}]}, panelCTraces, panelCColors);
drawTimeCourse({lw:6,topLabelShift:0,ax:2055,x0:2130,x800:3328,y0:2757,y8:1846,yLabelRight:1988,xLabelBase:2879,xLabelShift:[5,2,0,-1,-3],xTitleX:2777,xTitleY:2987,yTitleX:1905,yTitleY:2281,
  annos:[{name:"Cap",tx:2243,ty:1824,x1:2176,x2:2299,y:1857,tip:1949},{name:"KCl",tx:2819,ty:1838,x1:2744,x2:2867,y:1869,tip:1962}]}, panelDTraces, panelDColors);

drawBars({ax:530,y0:4321,unit:176.4,xEnd:1558,labelRight:486,labelDy:30,titleX:355,titleY:3870,title:"△ increase in R340/380",
  bars:[[571,744],[827,998],[1083,1255],[1341,1512]],stars:[916,3574],hashes:[1178,3930],tri:[1433,3553]}, panelEValues, panelEErrors, panelETicks);
drawBars({ax:2190,y0:4317,unit:4.41,xEnd:3209,labelRight:2146,labelDy:30,titleX:1955,titleY:3883,title:"Normalized AUC (%)",
  bars:[[2230,2405],[2489,2662],[2745,2918],[2998,3169]],stars:[2570,3534],hashes:[2829,3785],tri:[3094,3582]}, panelFValues, panelFErrors, panelFTicks);
</script>
</body>
</html>
